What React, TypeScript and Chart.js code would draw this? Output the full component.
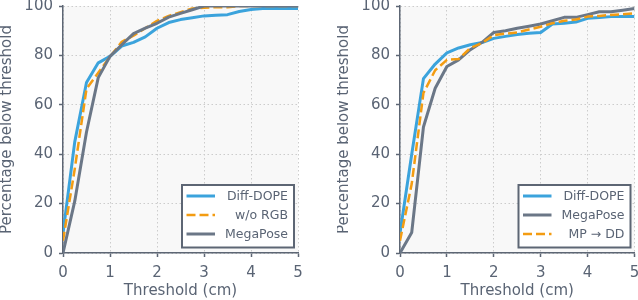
import React, { useEffect, useRef } from "react";
import { Chart, registerables } from "chart.js";

Chart.register(...registerables);

// ---------- data ----------
const thresholds = [0, 0.25, 0.5, 0.75, 1, 1.25, 1.5, 1.75, 2, 2.25, 2.5, 2.75, 3, 3.25, 3.5, 3.75, 4, 4.25, 4.5, 4.75, 5];

const leftDiffDope = [8, 45, 69, 77, 79.6, 83.8, 85.3, 87.5, 91, 93.3, 94.5, 95.2, 96, 96.3, 96.5, 97.8, 98.6, 99, 99, 99, 99];
const leftWoRgb = [5, 34, 66.5, 73, 79.5, 85.5, 88, 91, 94, 96, 97.5, 99, 99.3, 99.5, 99.5, 100, 100, 100, 100, 100, 100];
const leftMegaPose = [0, 21, 49, 71, 79.6, 84.3, 88.8, 91, 93, 95.5, 97, 98.5, 100, 100, 100, 100, 100, 100, 100, 100, 100];

const rightDiffDope = [8, 40, 70.6, 76.5, 81, 83, 84.3, 85.2, 86.9, 87.7, 88.5, 89, 89.3, 92.7, 93, 93.5, 95, 95.3, 95.7, 95.7, 95.7];
const rightMegaPose = [0, 8.3, 51, 66.7, 75.5, 78.2, 82.3, 85.3, 89.3, 90, 91, 91.8, 92.7, 94, 95.4, 95.4, 96.5, 97.7, 97.7, 98.3, 99];
const rightMpToDd = [5, 28, 64.8, 74, 78.2, 78.5, 83, 85, 88.2, 88.8, 89.3, 90.5, 91.6, 93, 94, 94.5, 95.7, 96, 96.4, 96.7, 97];

const leftLabels = ["Diff-DOPE", "w/o RGB", "MegaPose"];
const rightLabels = ["Diff-DOPE", "MegaPose", "MP → DD"];

const xTitle = "Threshold (cm)";
const yTitle = "Percentage below threshold";
const xMin = 0, xMax = 5, xStep = 1;
const yMin = 0, yMax = 100, yStep = 20;

// ---------- styles ----------
const BLUE = "#3ba3dc";
const ORANGE = "#f39c12";
const GRAY = "#6b7787";
const TEXT = "#5a6474";
const AXIS = "#5d6674";
const FONT = '"DejaVu Sans", sans-serif';

const toPoints = (ys: number[]) => ys.map((y, i) => ({ x: thresholds[i], y }));

const plotBg = {
  id: "plotBg",
  beforeDraw(chart: any) {
    const { ctx, chartArea } = chart;
    ctx.save();
    ctx.fillStyle = "#f8f8f8";
    ctx.fillRect(chartArea.left, chartArea.top, chartArea.right - chartArea.left, chartArea.bottom - chartArea.top);
    ctx.restore();
  },
};

const boxLegend = {
  id: "boxLegend",
  afterDatasetsDraw(chart: any, _args: any, opts: any) {
    const { ctx, chartArea } = chart;
    const w = opts.width, h = opts.height;
    const right = chartArea.right - opts.insetRight;
    const bottom = chartArea.bottom - opts.insetBottom;
    const left = right - w, top = bottom - h;
    ctx.save();
    ctx.fillStyle = "#ffffff";
    ctx.fillRect(left, top, w, h);
    ctx.lineWidth = 2;
    ctx.strokeStyle = AXIS;
    ctx.strokeRect(left, top, w, h);
    chart.data.datasets.forEach((ds: any, i: number) => {
      const y = top + opts.firstRow + i * opts.rowGap;
      ctx.beginPath();
      ctx.setLineDash(ds.borderDash || []);
      ctx.lineCap = "butt";
      ctx.lineWidth = ds.borderWidth;
      ctx.strokeStyle = ds.borderColor;
      ctx.moveTo(left + opts.lineStart, y);
      ctx.lineTo(left + opts.lineEnd, y);
      ctx.stroke();
      ctx.setLineDash([]);
      ctx.fillStyle = TEXT;
      ctx.font = `12.5px ${FONT}`;
      ctx.textAlign = "right";
      ctx.textBaseline = "middle";
      ctx.fillText(ds.label, right - opts.textPad, y + 0.5);
    });
    ctx.restore();
  },
};

function makeDataset(label: string, ys: number[], kind: "blue" | "orange" | "gray", order: number) {
  const base: any = {
    label,
    data: toPoints(ys),
    pointRadius: 0,
    tension: 0,
    fill: false,
    order,
    borderJoinStyle: "round",
  };
  if (kind === "blue") return { ...base, borderColor: BLUE, borderWidth: 3 };
  if (kind === "gray") return { ...base, borderColor: GRAY, borderWidth: 3 };
  return { ...base, borderColor: ORANGE, borderWidth: 2.5, borderDash: [9, 4] };
}

function buildConfig(datasets: any[], padRight: number): any {
  return {
    type: "line",
    data: { datasets },
    plugins: [plotBg, boxLegend],
    options: {
      animation: false,
      responsive: false,
      events: [],
      layout: { padding: { top: 6, right: padRight, bottom: 0, left: 0 } },
      plugins: {
        legend: { display: false },
        tooltip: { enabled: false },
        boxLegend: {
          width: 112,
          height: 62.5,
          insetRight: 4,
          insetBottom: 5.5,
          firstRow: 11,
          rowGap: 19,
          lineStart: 4.5,
          lineEnd: 33,
          textPad: 6,
        },
      },
      scales: {
        x: {
          type: "linear",
          min: xMin,
          max: xMax,
          afterFit: (s: any) => {
            s.height = 47;
            s.paddingLeft = 0;
            s.paddingRight = 0;
          },
          ticks: {
            stepSize: xStep,
            color: TEXT,
            padding: 7,
            font: { family: FONT, size: 15 },
            maxRotation: 0,
          },
          grid: {
            color: "#cccccc",
            lineWidth: 1,
            tickLength: 4,
            tickColor: AXIS,
            tickWidth: 1.5,
          },
          border: { display: true, color: AXIS, width: 1.5, dash: [1.5, 2.5] },
          title: {
            display: true,
            text: xTitle,
            color: TEXT,
            font: { family: FONT, size: 15, lineHeight: 1 },
            padding: { top: 0, bottom: 1 },
          },
        },
        y: {
          type: "linear",
          min: yMin,
          max: yMax,
          afterFit: (s: any) => {
            s.width = 63;
            s.paddingTop = 0;
            s.paddingBottom = 0;
          },
          ticks: {
            stepSize: yStep,
            color: TEXT,
            padding: 6,
            font: { family: FONT, size: 15 },
          },
          grid: {
            color: "#cccccc",
            lineWidth: 1,
            tickLength: 4,
            tickColor: AXIS,
            tickWidth: 1.5,
          },
          border: { display: true, color: AXIS, width: 1.5, dash: [1.5, 2.5] },
          title: {
            display: true,
            text: yTitle,
            color: TEXT,
            font: { family: FONT, size: 15, lineHeight: 1 },
            padding: { top: 0, bottom: 0 },
          },
        },
      },
    },
  };
}

function ChartCanvas({ config, width, height, left }: { config: () => any; width: number; height: number; left: number }) {
  const ref = useRef<HTMLCanvasElement | null>(null);
  useEffect(() => {
    if (!ref.current) return;
    const chart = new Chart(ref.current, config());
    return () => chart.destroy();
  }, []);
  return (
    <canvas
      ref={ref}
      width={width}
      height={height}
      style={{ position: "absolute", left, top: 0, width, height }}
    />
  );
}

export default function App() {
  const leftConfig = () =>
    buildConfig(
      [
        makeDataset(leftLabels[0], leftDiffDope, "blue", 2),
        makeDataset(leftLabels[1], leftWoRgb, "orange", 1),
        makeDataset(leftLabels[2], leftMegaPose, "gray", 0),
      ],
      21
    );
  const rightConfig = () =>
    buildConfig(
      [
        makeDataset(rightLabels[0], rightDiffDope, "blue", 2),
        makeDataset(rightLabels[1], rightMegaPose, "gray", 1),
        makeDataset(rightLabels[2], rightMpToDd, "orange", 0),
      ],
      3.5
    );
  return (
    <div style={{ position: "absolute", left: 0, top: 0, width: 638, height: 300, background: "#ffffff", overflow: "hidden" }}>
      <ChartCanvas config={leftConfig} width={319} height={300} left={0} />
      <ChartCanvas config={rightConfig} width={301} height={300} left={337} />
    </div>
  );
}
